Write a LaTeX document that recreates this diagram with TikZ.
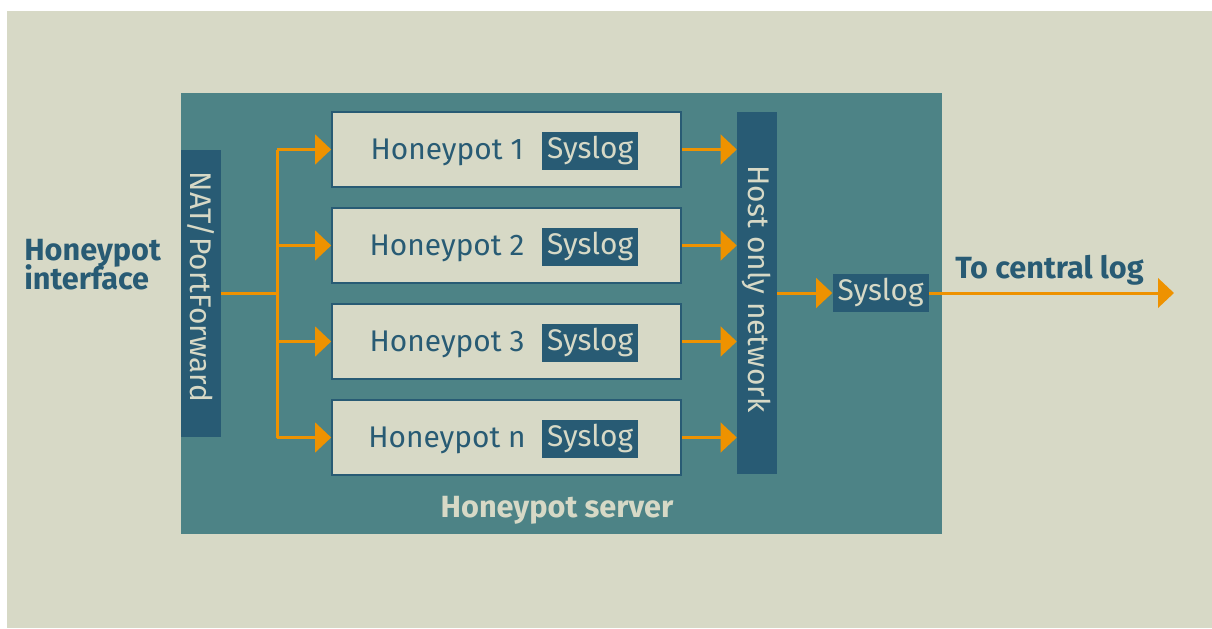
\documentclass[tikz,border=0pt]{standalone}
\usepackage{fontspec}
\setmainfont{Fira Sans}
\usetikzlibrary{arrows.meta}
\definecolor{bgbeige}{HTML}{D7D9C6}
\definecolor{teal}{HTML}{4D8386}
\definecolor{darkblue}{HTML}{285B74}
\definecolor{orng}{HTML}{EE9200}
\tikzset{
  pxs/.style={x=0.75pt,y=-0.75pt},
  regfont/.style={font=\fontsize{22.4}{26}\selectfont},
  bar/.style={fill=darkblue,draw=none,inner sep=0pt},
  barlabel/.style={rotate=-90,text=bgbeige,regfont,inner sep=0pt,anchor=base},
  hpbox/.style={fill=bgbeige,draw=darkblue,line width=1.2pt,minimum width=261.75pt,minimum height=56.25pt,inner sep=0pt},
  hplabel/.style={text=darkblue,regfont,inner sep=0pt,anchor=base},
  sysbox/.style={fill=darkblue,minimum width=72pt,minimum height=28.5pt,inner sep=0pt},
  syslabel/.style={text=bgbeige,regfont,inner sep=0pt,anchor=base},
  flow/.style={draw=orng,line width=2.25pt,-{Triangle[length=12pt,width=22pt]}},
  plain/.style={draw=orng,line width=2.25pt},
  boldlabel/.style={font=\bfseries\fontsize{23}{19.5}\selectfont,inner sep=0pt}
}
\begin{document}
\begin{tikzpicture}[pxs]
\useasboundingbox (0,0) rectangle (1212,628);
\fill[bgbeige] (7,11) rectangle (1212,628);
\node[fill=teal,minimum width=570.75pt,minimum height=330.75pt,inner sep=0pt] (server) at (561.5,313.5) {};
\node[bar,minimum width=30pt,minimum height=215.25pt] (nat) at (201,293.5) {};
\node[barlabel] (natlabel) at (190,287) {NAT/PortForward};
\node[bar,minimum width=30pt,minimum height=271.5pt] (host) at (757,293) {};
\node[barlabel] (hostlabel) at (748,289) {Host only network};
\foreach \i/\y/\t in {1/149.5/1,2/245.5/2,3/341.5/3,4/437.5/n}{
  \node[hpbox] (hp\i) at (506.5,\y) {};
  \node[hplabel] (hpl\i) at (447,\y+9.5) {Honeypot \t};
  \node[sysbox] (sys\i) at (590,\y+1) {};
  \node[syslabel] (sysl\i) at (590,\y+8.5) {Syslog};
}
\coordinate (fork) at (277,293.5);
\draw[plain] (nat.east) -- (fork);
\draw[plain] (fork |- hp1.west) -- (fork |- hp4.west);
\foreach \i in {1,2,3,4}{
  \draw[flow] (fork |- hp\i.west) -- (hp\i.west);
  \draw[flow] (hp\i.east) -- (host.west |- hp\i.east);
}
\node[sysbox] (sysout) at (880.5,293) {};
\node[syslabel] (sysoutl) at (880.5,300.5) {Syslog};
\draw[flow] (host.east |- sysout.west) -- (sysout.west);
\coordinate (central) at (1174,293);
\draw[flow] (sysout.east) -- (central);
\node[boldlabel,text=darkblue,anchor=base west] (centrallabel) at (955,278) {To central log};
\node[boldlabel,text=darkblue,anchor=base west,align=left] (iface) at (24,289) {Honeypot\\[-3.75pt]interface};
\node[boldlabel,text=bgbeige,anchor=base] (serverlabel) at (557,517) {Honeypot server};
\end{tikzpicture}
\end{document}
